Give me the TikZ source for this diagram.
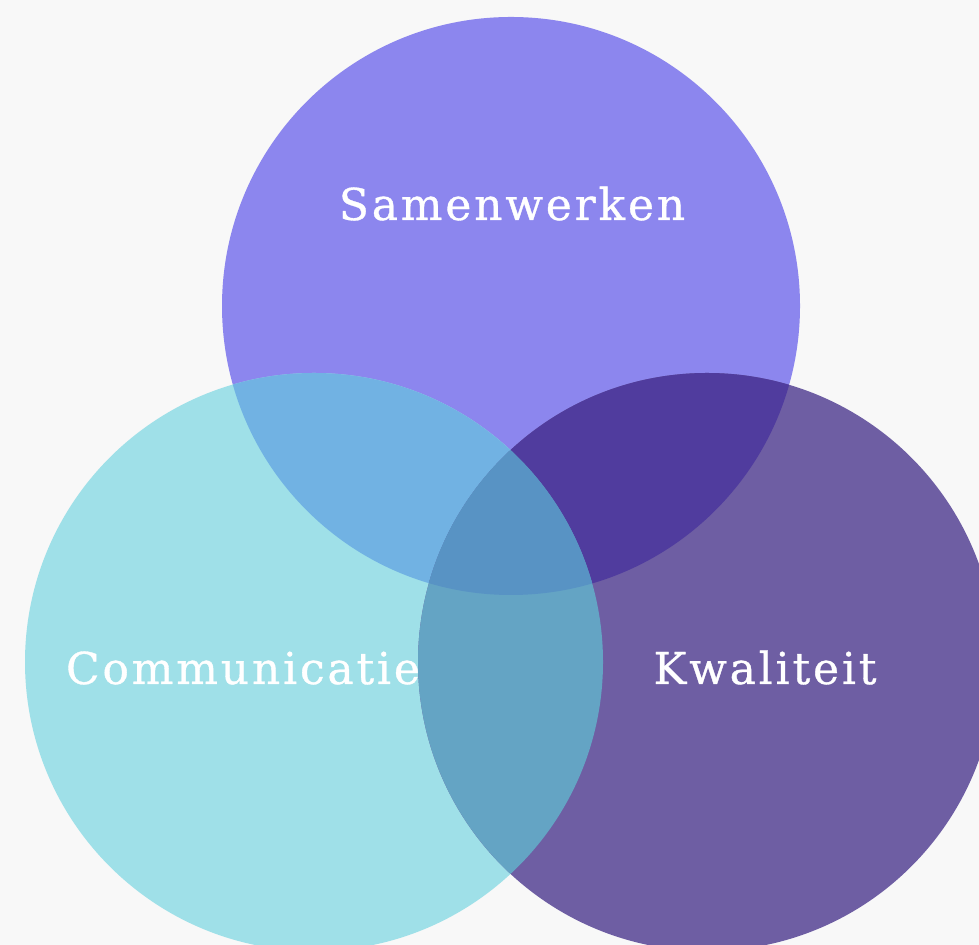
\documentclass[tikz,border=0pt]{standalone}
\usepackage{fontspec}
\setmainfont{DejaVu Serif}[LetterSpace=6.5,FakeBold=0.8]
\definecolor{achter}{RGB}{248,248,248}
\definecolor{samenkl}{RGB}{140,134,238}
\definecolor{commkl}{RGB}{159,224,232}
\definecolor{kwalkl}{RGB}{110,94,163}
\definecolor{samencomm}{RGB}{113,178,227}
\definecolor{samenkwal}{RGB}{80,60,158}
\definecolor{commkwal}{RGB}{100,164,196}
\definecolor{alledrie}{RGB}{88,147,196}
\tikzset{label/.style={text=white,font=\fontsize{25}{29}\selectfont,anchor=base,inner sep=0pt}}

\begin{document}
\begin{tikzpicture}[x=0.02cm,y=0.02cm]
		\useasboundingbox (0,0) rectangle (979,945);
		\fill[achter] (0,0) rectangle (979,945);
		\coordinate (samen) at (511,639);
		\coordinate (comm) at (314,283);
		\coordinate (kwal) at (707,283);
		\begin{scope}
			\clip (0,0) rectangle (979,945);
			\fill[samenkl] (samen) circle (289);
			\fill[commkl] (comm) circle (289);
			\fill[kwalkl] (kwal) circle (289);
			\begin{scope}
				\clip (samen) circle (289);
				\fill[samencomm] (comm) circle (289);
				\fill[samenkwal] (kwal) circle (289);
			\end{scope}
			\begin{scope}
				\clip (comm) circle (289);
				\fill[commkwal] (kwal) circle (289);
				\clip (kwal) circle (289);
				\fill[alledrie] (samen) circle (289);
			\end{scope}
		\end{scope}
		\node[label] (samenwerken) at (512,725) {Samenwerken};
		\node[label] (communicatie) at (243,261) {Communicatie};
		\node[label] (kwaliteit) at (765,261) {Kwaliteit};
\end{tikzpicture}
\end{document}
